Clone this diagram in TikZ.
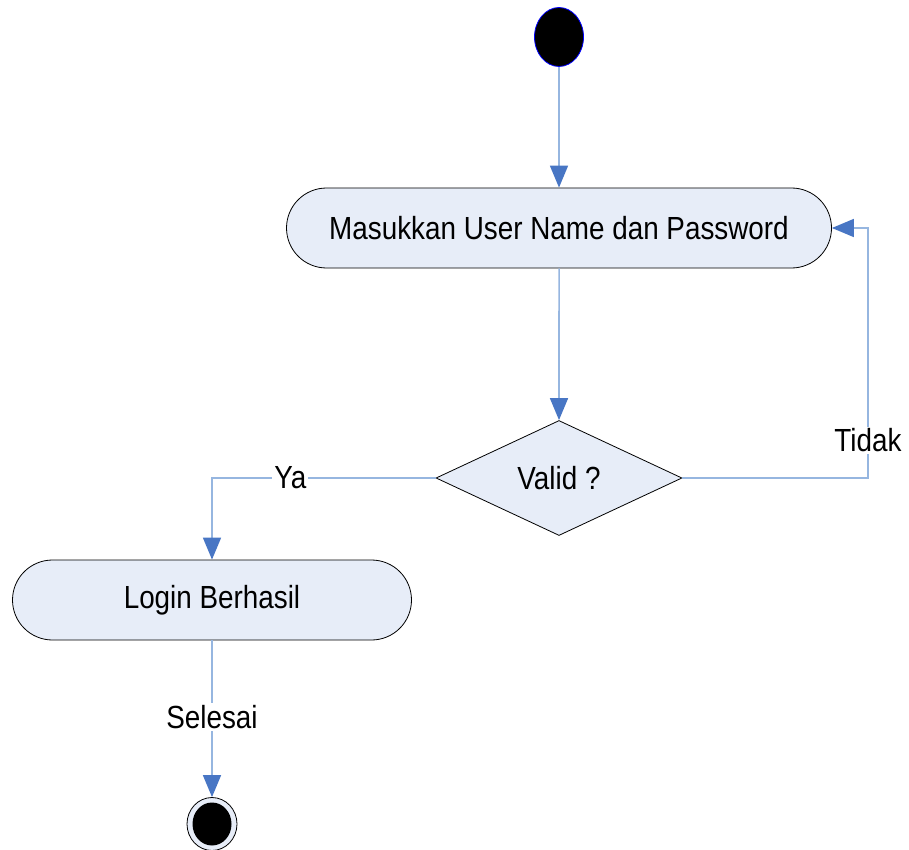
\documentclass[tikz,border=0pt]{standalone}
\usepackage{fontspec}
\setmainfont{Liberation Sans}[FakeStretch=0.87]
\usepackage{tikz}
\usetikzlibrary{arrows.meta,shapes.geometric,shapes.misc}

\definecolor{flowline}{RGB}{150,182,224}
\definecolor{tipblue}{RGB}{72,118,196}
\definecolor{boxfill}{RGB}{231,237,248}

\tikzset{
	action/.style = {rounded rectangle, draw = black, line width = 0.8pt, fill = boxfill,
		minimum height = 80pt, inner sep = 0pt},
	decision/.style = {diamond, draw = black, line width = 0.8pt, fill = boxfill,
		minimum width = 246pt, minimum height = 115pt, inner sep = 0pt},
	flow/.style = {draw = flowline, line width = 1.6pt,
		-{Triangle[width = 18pt, length = 22pt, fill = tipblue, color = tipblue]}},
	lbl/.style = {fill = white, inner sep = 2pt}
}

\begin{document}
\begin{tikzpicture}[x = 1pt, y = -1pt, font = \fontsize{32}{38}\selectfont]
		\useasboundingbox (0,0) rectangle (909,850);
		% start and end
		\node[ellipse, draw = blue, fill = black, line width = 0.8pt, minimum width = 49pt, minimum height = 59pt, inner sep = 0pt] (start) at (559,37) {};
		\node[ellipse, draw = black, fill = boxfill, line width = 0.8pt, minimum width = 50pt, minimum height = 53pt, inner sep = 0pt] (final) at (212,824) {};
		\node[ellipse, fill = black, minimum width = 39pt, minimum height = 43pt, inner sep = 0pt] (finaldot) at (212,824) {};
		% activities
		\node[action, minimum width = 545pt] (masuk) at (559,228) {Masukkan User Name dan Password};
		\node[decision] (valid) at (559,478) {Valid ?};
		\node[action, minimum width = 399pt] (login) at (212,600) {Login Berhasil};
		\coordinate (loopR) at (868,478);
		% flows
		\draw[flow] (start) -- (masuk);
		\draw[flow] (masuk) -- (valid);
		\draw[flow] (valid.east) -- (loopR) -- node[lbl, pos = 0.15] {Tidak} (loopR |- masuk.east) -- (masuk.east);
		\draw[flow] (valid.west) -- node[lbl, pos = 0.65] {Ya} (valid.west -| login.north) -- (login.north);
		\draw[flow] (login.south) -- node[lbl, pos = 0.49] {Selesai} (final.north);
	\end{tikzpicture}
\end{document}
